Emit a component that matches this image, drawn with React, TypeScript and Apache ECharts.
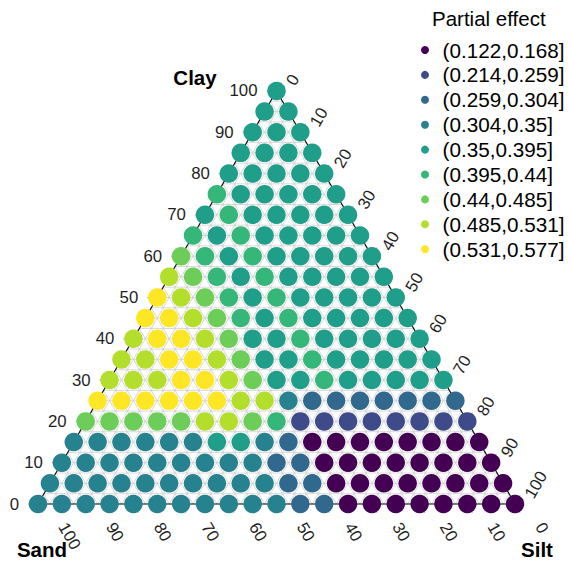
import React, { useEffect, useRef } from "react";
import * as echarts from "echarts";

// Composition lattice (percent), shared by clay rows and silt steps
const levels = [0, 5, 10, 15, 20, 25, 30, 35, 40, 45, 50, 55, 60, 65, 70, 75, 80, 85, 90, 95, 100];

// Partial-effect class (1..9) of every lattice point, one row per clay level,
// left to right = silt 0, 5, 10, ... (sand fills the remainder)
const effectClassByRow: number[][] = [
  [4, 4, 4, 4, 4, 4, 4, 4, 4, 4, 4, 3, 3, 1, 1, 1, 1, 1, 1, 1, 1],
  [4, 4, 4, 4, 4, 4, 4, 4, 4, 4, 3, 3, 1, 1, 1, 1, 1, 1, 1, 1],
  [4, 4, 4, 4, 4, 4, 4, 4, 4, 3, 3, 1, 1, 1, 1, 1, 1, 1, 1],
  [4, 4, 4, 4, 4, 4, 5, 5, 4, 3, 1, 1, 1, 1, 1, 1, 1, 1],
  [7, 7, 7, 7, 7, 8, 8, 7, 6, 2, 2, 2, 2, 2, 2, 2, 2],
  [9, 9, 9, 9, 9, 9, 8, 8, 4, 3, 3, 3, 3, 3, 3, 3],
  [8, 8, 8, 9, 9, 8, 7, 5, 5, 6, 5, 5, 5, 5, 5],
  [8, 8, 9, 9, 8, 7, 5, 5, 6, 5, 5, 5, 5, 5],
  [8, 9, 9, 8, 7, 5, 5, 6, 5, 5, 5, 5, 5],
  [9, 9, 8, 7, 6, 5, 6, 5, 5, 5, 5, 5],
  [9, 8, 7, 6, 5, 6, 5, 5, 5, 5, 5],
  [8, 7, 6, 5, 6, 5, 5, 5, 5, 5],
  [7, 6, 5, 6, 5, 5, 5, 5, 5],
  [6, 5, 6, 5, 5, 5, 5, 5],
  [5, 6, 5, 5, 5, 5, 5],
  [6, 5, 5, 5, 5, 5],
  [5, 5, 5, 5, 5],
  [5, 5, 5, 5],
  [5, 5, 5],
  [5, 5],
  [5],
];

const classLabels = [
  "(0.122,0.168]",
  "(0.214,0.259]",
  "(0.259,0.304]",
  "(0.304,0.35]",
  "(0.35,0.395]",
  "(0.395,0.44]",
  "(0.44,0.485]",
  "(0.485,0.531]",
  "(0.531,0.577]",
];

const classColors = [
  "#440154",
  "#3E4A89",
  "#31688E",
  "#26828E",
  "#1F9E89",
  "#35B779",
  "#6DCD59",
  "#B4DE2C",
  "#FDE725",
];

const tickValues = [0, 10, 20, 30, 40, 50, 60, 70, 80, 90, 100];
const gridStep = 2.5;

const FONT = "'Liberation Sans', Arial, Helvetica, sans-serif";
const H = Math.sqrt(3) / 2;

// ternary (sand, silt, clay) -> cartesian: sand at left, silt at right, clay on top
function toXY(sand: number, silt: number, clay: number): [number, number] {
  return [silt + clay / 2, clay * H];
}

// axis id: 0 = clay (left edge), 1 = silt (right edge), 2 = sand (bottom edge)
const axisStyle = [
  { dir: [-1, 0], off: [-19, 0], rotation: 0, align: "right" },
  { dir: [0.5, -H], off: [14, -7], rotation: Math.PI / 3, align: "left" },
  { dir: [0.5, H], off: [24.5, 20], rotation: -Math.PI / 3, align: "left" },
];

function buildOption() {
  const pointsByClass: number[][][] = classLabels.map(() => []);
  effectClassByRow.forEach((row, r) => {
    const clay = levels[r];
    row.forEach((cls, k) => {
      const silt = levels[k];
      const sand = 100 - clay - silt;
      const [x, y] = toXY(sand, silt, clay);
      pointsByClass[cls - 1].push([x, y, sand, silt, clay]);
    });
  });

  // grid lines for each component, plus the black outline
  const gridLines: number[][] = [];
  for (let v = gridStep; v < 100; v += gridStep) {
    const a = toXY(100 - v, 0, v);
    const b = toXY(0, 100 - v, v);
    gridLines.push([a[0], a[1], b[0], b[1], 0]);
    const c = toXY(v, 0, 100 - v);
    const d = toXY(v, 100 - v, 0);
    gridLines.push([c[0], c[1], d[0], d[1], 0]);
    const e = toXY(100 - v, v, 0);
    const f = toXY(0, v, 100 - v);
    gridLines.push([e[0], e[1], f[0], f[1], 0]);
  }
  const vSand = toXY(100, 0, 0);
  const vSilt = toXY(0, 100, 0);
  const vClay = toXY(0, 0, 100);
  gridLines.push([vSand[0], vSand[1], vSilt[0], vSilt[1], 1]);
  gridLines.push([vSilt[0], vSilt[1], vClay[0], vClay[1], 1]);
  gridLines.push([vClay[0], vClay[1], vSand[0], vSand[1], 1]);

  const tickItems: number[][] = [];
  tickValues.forEach((v) => {
    const pc = toXY(100 - v, 0, v);
    tickItems.push([pc[0], pc[1], 0, v]);
    const ps = toXY(0, v, 100 - v);
    tickItems.push([ps[0], ps[1], 1, v]);
    const pd = toXY(v, 100 - v, 0);
    tickItems.push([pd[0], pd[1], 2, v]);
  });

  return {
    animation: false,
    backgroundColor: "#ffffff",
    grid: { left: 38, top: 504 - 477 * H, width: 477, height: 477 * H, containLabel: false },
    xAxis: { type: "value", min: 0, max: 100, show: false },
    yAxis: { type: "value", min: 0, max: 100 * H, show: false },
    legend: {
      orient: "vertical",
      left: 416,
      top: 34.5,
      itemWidth: 25,
      itemHeight: 8,
      itemGap: 3.9,
      icon: "circle",
      selectedMode: false,
      data: classLabels,
      textStyle: { fontSize: 20.7, color: "#000", fontFamily: FONT },
    },
    graphic: [
      {
        type: "text",
        x: 432,
        y: 18.5,
        style: { text: "Partial effect", fontSize: 20.5, fill: "#000", fontFamily: FONT, align: "left", verticalAlign: "middle" },
      },
      {
        type: "text",
        x: 195,
        y: 77,
        style: { text: "Clay", fontSize: 20.5, fontWeight: "bold", fill: "#000", fontFamily: FONT, align: "center", verticalAlign: "middle" },
      },
      {
        type: "text",
        x: 42,
        y: 549,
        style: { text: "Sand", fontSize: 20.5, fontWeight: "bold", fill: "#000", fontFamily: FONT, align: "center", verticalAlign: "middle" },
      },
      {
        type: "text",
        x: 537,
        y: 549,
        style: { text: "Silt", fontSize: 20.5, fontWeight: "bold", fill: "#000", fontFamily: FONT, align: "center", verticalAlign: "middle" },
      },
    ],
    series: [
      {
        type: "custom",
        name: "grid",
        coordinateSystem: "cartesian2d",
        clip: false,
        silent: true,
        z: 1,
        data: gridLines,
        renderItem: (_params: any, api: any) => {
          const p1 = api.coord([api.value(0), api.value(1)]);
          const p2 = api.coord([api.value(2), api.value(3)]);
          const outline = api.value(4) === 1;
          return {
            type: "line",
            shape: { x1: p1[0], y1: p1[1], x2: p2[0], y2: p2[1] },
            style: { stroke: outline ? "#000000" : "#d4d4d4", lineWidth: outline ? 1.1 : 0.9 },
          };
        },
      },
      {
        type: "custom",
        name: "ticks",
        coordinateSystem: "cartesian2d",
        clip: false,
        silent: true,
        z: 1,
        data: tickItems,
        renderItem: (_params: any, api: any) => {
          const p = api.coord([api.value(0), api.value(1)]);
          const spec = axisStyle[api.value(2)];
          const v = api.value(3);
          const len = 10;
          return {
            type: "group",
            children: [
              {
                type: "line",
                shape: { x1: p[0], y1: p[1], x2: p[0] + spec.dir[0] * len, y2: p[1] + spec.dir[1] * len },
                style: { stroke: "#9a9a9a", lineWidth: 1 },
              },
              {
                type: "text",
                x: p[0] + spec.off[0],
                y: p[1] + spec.off[1],
                rotation: spec.rotation,
                style: {
                  text: String(v),
                  fontSize: 16.8,
                  fontFamily: FONT,
                  fill: "#1f1f1f",
                  align: spec.align,
                  verticalAlign: "middle",
                },
              },
            ],
          };
        },
      },
      ...classLabels.map((label, i) => ({
        type: "scatter",
        name: label,
        z: 3,
        silent: true,
        symbol: "circle",
        symbolSize: 18.5,
        itemStyle: { color: classColors[i], opacity: 1 },
        data: pointsByClass[i],
      })),
    ],
  };
}

export default function App() {
  const ref = useRef<HTMLDivElement>(null);
  useEffect(() => {
    if (!ref.current) return;
    const chart = echarts.init(ref.current, undefined, { renderer: "svg" });
    chart.setOption(buildOption() as any);
    return () => chart.dispose();
  }, []);
  return (
    <div
      ref={ref}
      style={{ position: "absolute", left: 0, top: 0, width: 569, height: 563, background: "#fff" }}
    />
  );
}
